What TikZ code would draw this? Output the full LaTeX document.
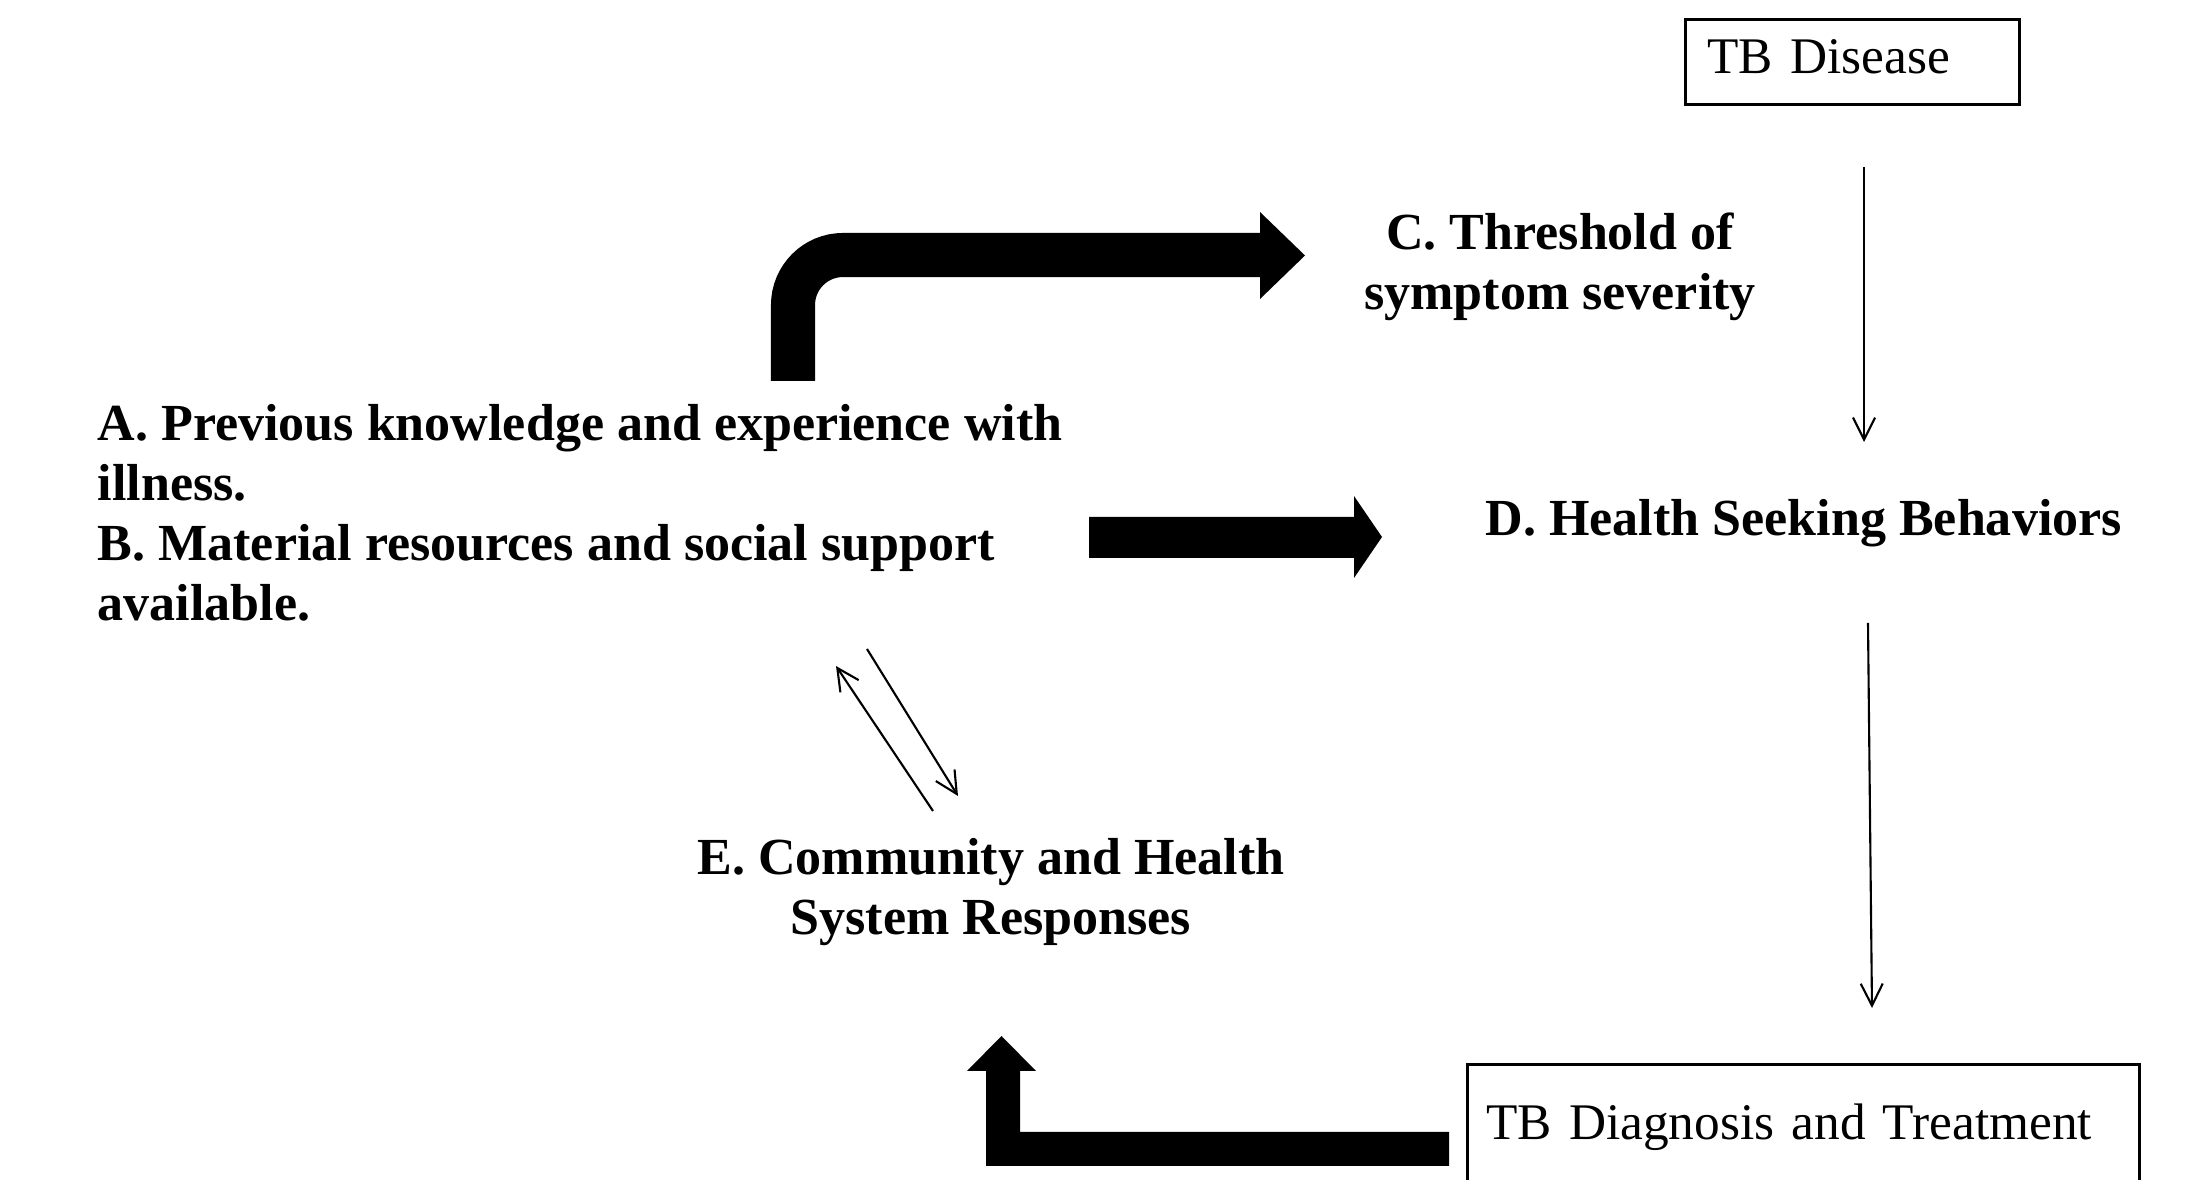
\documentclass[tikz,border=0pt]{standalone}
\usepackage{fontspec}
\setmainfont{Liberation Serif}
\usepackage{tikz}
\usetikzlibrary{arrows.meta}
\definecolor{tbink}{RGB}{0,0,0}
\newcommand{\tbfont}{\fontsize{14.6}{17.1}\selectfont}
\newcommand{\tbbold}{\fontsize{14.8}{17.1}\selectfont\bfseries}
\tikzset{
  tbbox/.style={
    draw=tbink, line width=0.8pt, inner sep=0pt,
    align=left, font=\tbfont
  },
  lbl/.style={font=\tbbold, inner sep=0pt, text=tbink},
  tarr/.style={-{Straight Barb[length=2.2mm,width=2.2mm]}, draw=tbink, line width=0.6pt},
  bigarr/.style={fill=tbink},
  bigline/.style={draw=tbink, line width=0.44cm, rounded corners=0.5cm}
}

\begin{document}
\begin{tikzpicture}[x=0.01cm, y=-0.01cm]
  \useasboundingbox (0,0) rectangle (2193,1180);
  \clip (0,0) rectangle (2193,1180);
  % boxes
  \node[tbbox, anchor=north west, minimum width=3.34cm, minimum height=0.85cm,
    text width=2.9cm, inner xsep=0.22cm, text height=0.37cm, text depth=0.13cm]
    (dis) at (1684,18) {TB Disease};
  \node[tbbox, anchor=north west, minimum width=6.72cm,
    text width=6.34cm, inner xsep=0.19cm, inner ysep=0.39cm] (dx) at (1466,1063)
    {TB Diagnosis and Treatment};
  % labels (base = last line)
  \node[lbl, anchor=base west, align=left] (ab) at (97,621)
    {A. Previous knowledge and experience with\\illness.\\B. Material resources and social support\\available.};
  \node[lbl, anchor=base, align=center] (thr) at (1560,310) {C. Threshold of\\symptom severity};
  \node[lbl, anchor=base west] (hsb) at (1485,536) {D. Health Seeking Behaviors};
  \node[lbl, anchor=base, align=center] (csr) at (991,935) {E. Community and Health\\System Responses};
  % thin connectors
  \coordinate (dis-out) at (1864,167);
  \coordinate (hsb-in) at (1864,442);
  \coordinate (hsb-out) at (1868,623);
  \coordinate (dx-in) at (1872,1008);
  \draw[tarr] (dis-out) -- (hsb-in);
  \draw[tarr] (hsb-out) -- (dx-in);
  \coordinate (csr-up) at (933,811);
  \coordinate (ab-dn) at (836,666);
  \coordinate (ab-up) at (867,649);
  \coordinate (csr-dn) at (958,796);
  \draw[tarr] (csr-up) -- (ab-dn);
  \draw[tarr] (ab-up) -- (csr-dn);
  % block arrows
  \draw[bigline] (793,381) |- (1261,255);
  \fill[bigarr] (1260,212) -- (1305,255.5) -- (1260,299) -- cycle;
  \fill[bigarr] (1089,517) -- (1354,517) -- (1354,496) -- (1382,537)
    -- (1354,578) -- (1354,558) -- (1089,558) -- cycle;
  \fill[bigarr] (1449,1132) -- (1020,1132) -- (1020,1071) -- (1036,1071)
    -- (1001.5,1036) -- (967,1071) -- (986,1071) -- (986,1166) -- (1449,1166) -- cycle;
\end{tikzpicture}
\end{document}
